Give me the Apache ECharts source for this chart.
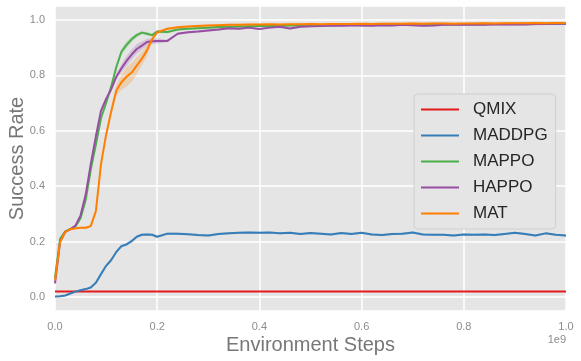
<!DOCTYPE html>
<html>
<head>
<meta charset="utf-8">
<script src="https://cdn.jsdelivr.net/npm/echarts@6/dist/echarts.min.js"></script>
<style>
  html, body { margin: 0; padding: 0; background: #fff; }
  #myChart { width: 581px; height: 361px; }
</style>
</head>
<body>
<div id="myChart"></div>
<script>
// environment steps (x 1e9)
var steps = [0, 0.01, 0.02, 0.03, 0.04, 0.05, 0.06, 0.07, 0.08, 0.09, 0.10,
  0.11, 0.12, 0.13, 0.14, 0.15, 0.16, 0.17, 0.18, 0.19, 0.20,
  0.22, 0.24, 0.26, 0.28, 0.30, 0.32, 0.34, 0.36, 0.38, 0.40,
  0.42, 0.44, 0.46, 0.48, 0.50, 0.52, 0.54, 0.56, 0.58, 0.60,
  0.62, 0.64, 0.66, 0.68, 0.70, 0.72, 0.74, 0.76, 0.78, 0.80,
  0.82, 0.84, 0.86, 0.88, 0.90, 0.92, 0.94, 0.96, 0.98, 1.00]

var qmixSteps = [0, 0.5, 1.0]
var qmix = [0.02, 0.02, 0.02]

var maddpg = [0.002, 0.003, 0.006, 0.013, 0.02, 0.025, 0.029, 0.035, 0.052, 0.083, 0.113,
  0.134, 0.163, 0.184, 0.19, 0.202, 0.218, 0.225, 0.226, 0.225, 0.218,
  0.229, 0.229, 0.227, 0.224, 0.222, 0.228, 0.23, 0.232, 0.233, 0.232,
  0.233, 0.23, 0.232, 0.228, 0.231, 0.229, 0.226, 0.231, 0.228, 0.232,
  0.226, 0.224, 0.228, 0.229, 0.233, 0.226, 0.225, 0.225, 0.222, 0.226,
  0.225, 0.226, 0.224, 0.228, 0.232, 0.228, 0.222, 0.23, 0.225, 0.222]

var mappo = [0.07, 0.21, 0.237, 0.245, 0.255, 0.285, 0.35, 0.46, 0.55, 0.645, 0.70,
  0.76, 0.83, 0.885, 0.91, 0.93, 0.945, 0.954, 0.95, 0.945, 0.958,
  0.956, 0.965, 0.968, 0.97, 0.972, 0.974, 0.975, 0.976, 0.977, 0.978,
  0.978, 0.979, 0.98, 0.98, 0.981, 0.98, 0.981, 0.982, 0.982, 0.981,
  0.982, 0.983, 0.983, 0.982, 0.983, 0.984, 0.983, 0.984, 0.984, 0.984,
  0.985, 0.984, 0.985, 0.985, 0.985, 0.986, 0.985, 0.986, 0.986, 0.986]

var happo = [0.05, 0.2, 0.235, 0.245, 0.258, 0.295, 0.37, 0.48, 0.58, 0.672, 0.715,
  0.75, 0.795, 0.825, 0.852, 0.875, 0.895, 0.907, 0.92, 0.923, 0.924,
  0.924, 0.95, 0.955, 0.958, 0.962, 0.965, 0.97, 0.968, 0.972, 0.967,
  0.972, 0.975, 0.969, 0.975, 0.977, 0.978, 0.98, 0.979, 0.98, 0.98,
  0.979, 0.981, 0.98, 0.982, 0.981, 0.979, 0.98, 0.982, 0.983, 0.982,
  0.983, 0.982, 0.984, 0.983, 0.984, 0.983, 0.985, 0.985, 0.986, 0.986]

var mat = [0.06, 0.2, 0.235, 0.245, 0.248, 0.25, 0.25, 0.256, 0.31, 0.48, 0.585,
  0.67, 0.745, 0.775, 0.795, 0.81, 0.835, 0.86, 0.89, 0.93, 0.955,
  0.968, 0.973, 0.976, 0.978, 0.98, 0.981, 0.982, 0.982, 0.983, 0.983,
  0.984, 0.983, 0.984, 0.984, 0.985, 0.984, 0.985, 0.985, 0.985, 0.986,
  0.985, 0.986, 0.986, 0.986, 0.987, 0.986, 0.987, 0.987, 0.986, 0.987,
  0.987, 0.988, 0.987, 0.988, 0.988, 0.988, 0.989, 0.988, 0.989, 0.989]

// half width of the shaded band, first 21 steps (0 .. 0.2); tailBand after that
var maddpgBand = [0.003, 0.003, 0.003, 0.003, 0.003, 0.003, 0.003, 0.004, 0.005, 0.006, 0.006,
  0.006, 0.006, 0.006, 0.005, 0.005, 0.004, 0.004, 0.004, 0.004, 0.004]
var mappoBand = [0.004, 0.004, 0.004, 0.004, 0.004, 0.004, 0.005, 0.006, 0.006, 0.006, 0.006,
  0.008, 0.01, 0.012, 0.012, 0.01, 0.008, 0.006, 0.006, 0.006, 0.006]
var happoBand = [0.004, 0.004, 0.004, 0.004, 0.004, 0.004, 0.005, 0.006, 0.007, 0.008, 0.008,
  0.01, 0.012, 0.015, 0.018, 0.018, 0.018, 0.015, 0.012, 0.01, 0.01]
var matBand = [0.004, 0.004, 0.004, 0.004, 0.004, 0.004, 0.004, 0.004, 0.005, 0.006, 0.01,
  0.015, 0.02, 0.028, 0.035, 0.035, 0.03, 0.025, 0.02, 0.01, 0.006]
var tailBand = 0.004

var names = ['QMIX', 'MADDPG', 'MAPPO', 'HAPPO', 'MAT']
var colors = ['#e41a1c', '#377eb8', '#4daf4a', '#984ea3', '#ff7f00']
var font = 'Liberation Sans, Arial, sans-serif'

function toRgba(hex, a) {
  var n = parseInt(hex.slice(1), 16)
  return 'rgba(' + (n >> 16) + ',' + ((n >> 8) & 255) + ',' + (n & 255) + ',' + a + ')'
}

function bandSeries(color, mean, band) {
  var data = steps.map(function (x, i) {
    var s = i < band.length ? band[i] : tailBand
    return [x, mean[i] - s, mean[i] + s]
  })
  return {
    type: 'custom',
    silent: true,
    z: 1,
    clip: true,
    data: data,
    encode: { x: 0, y: [1, 2] },
    renderItem: function (params, api) {
      if (params.dataIndex !== 0) return
      var up = []
      var down = []
      for (var i = 0; i < data.length; i++) {
        up.push(api.coord([data[i][0], data[i][2]]))
        down.unshift(api.coord([data[i][0], data[i][1]]))
      }
      return {
        type: 'polygon',
        shape: { points: up.concat(down) },
        style: { fill: toRgba(color, 0.22) }
      }
    }
  }
}

function lineSeries(name, color, xs, ys) {
  return {
    name: name,
    type: 'line',
    z: 3,
    showSymbol: false,
    symbol: 'none',
    data: xs.map(function (x, i) { return [x, ys[i]] }),
    lineStyle: { width: 2, color: color },
    itemStyle: { color: color }
  }
}

var chartDom = document.getElementById('myChart')
var myChart = echarts.init(chartDom, null, { renderer: 'canvas' })
var option = {
  animation: false,
  backgroundColor: '#fff',
  grid: {
    left: 55, right: 15, top: 6, bottom: 50,
    outerBoundsMode: 'none',
    containLabel: false,
    show: true, backgroundColor: '#e5e5e5', borderWidth: 0
  },
  legend: {
    orient: 'vertical',
    left: 414, top: 94,
    padding: [7, 8, 7, 7],
    itemGap: 9,
    itemWidth: 38,
    itemHeight: 2,
    icon: 'rect',
    backgroundColor: '#e5e5e5',
    borderColor: '#cfcfcf',
    borderWidth: 1,
    borderRadius: 4,
    data: names,
    textStyle: { fontFamily: font, fontSize: 17, color: '#262626', padding: [0, 0, 0, 9] }
  },
  xAxis: {
    type: 'value',
    min: 0, max: 1, interval: 0.2,
    name: 'Environment Steps',
    nameLocation: 'middle',
    nameGap: 24,
    nameMoveOverlap: false,
    nameTextStyle: { fontFamily: font, fontSize: 20, color: '#777' },
    axisLine: { show: false },
    axisTick: { show: false },
    axisLabel: {
      margin: 10,
      fontFamily: font, fontSize: 11, color: '#8c8c8c',
      formatter: function (v) { return v.toFixed(1) }
    },
    splitLine: { show: true, lineStyle: { color: '#fff', width: 1.5 } }
  },
  yAxis: {
    type: 'value',
    min: -0.05, max: 1.05, splitNumber: 5,
    name: 'Success Rate',
    nameLocation: 'middle',
    nameGap: 28,
    nameMoveOverlap: false,
    nameTextStyle: { fontFamily: font, fontSize: 20, color: '#777' },
    axisLine: { show: false },
    axisTick: { show: false },
    axisLabel: {
      margin: 10,
      showMinLabel: false, showMaxLabel: false,
      fontFamily: font, fontSize: 11, color: '#8c8c8c',
      formatter: function (v) { return v.toFixed(1) }
    },
    splitLine: { show: true, lineStyle: { color: '#fff', width: 1.5 } }
  },
  graphic: [{
    type: 'text', right: 15, top: 334,
    style: { text: '1e9', fontFamily: font, fontSize: 11, fill: '#8c8c8c' }
  }],
  series: [
    bandSeries(colors[1], maddpg, maddpgBand),
    bandSeries(colors[2], mappo, mappoBand),
    bandSeries(colors[3], happo, happoBand),
    bandSeries(colors[4], mat, matBand),
    lineSeries(names[0], colors[0], qmixSteps, qmix),
    lineSeries(names[1], colors[1], steps, maddpg),
    lineSeries(names[2], colors[2], steps, mappo),
    lineSeries(names[3], colors[3], steps, happo),
    lineSeries(names[4], colors[4], steps, mat)
  ]
}
myChart.setOption(option)
</script>
</body>
</html>
